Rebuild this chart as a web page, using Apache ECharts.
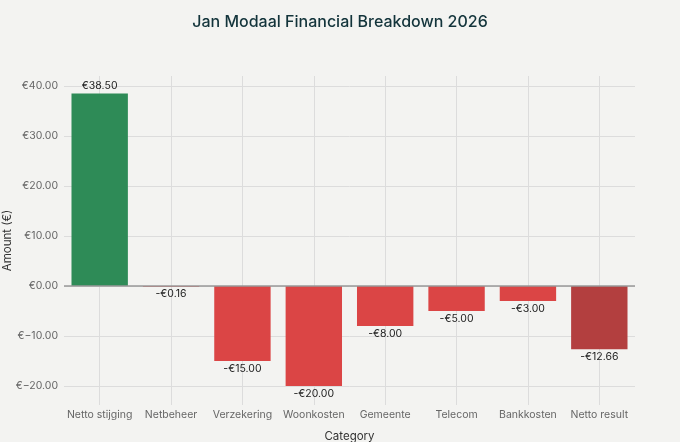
<!DOCTYPE html>
<html>
<head>
<meta charset="utf-8">
<script src="https://cdn.jsdelivr.net/npm/echarts@6/dist/echarts.min.js"></script>
<style>
  html, body { margin: 0; padding: 0; background: #f3f3f1; }
  #chart { width: 680px; height: 442px; }
</style>
</head>
<body>
<div id="chart"></div>
<script>
var categories = ['Netto stijging', 'Netbeheer', 'Verzekering', 'Woonkosten', 'Gemeente', 'Telecom', 'Bankkosten', 'Netto result'];
var amounts = [38.50, -0.16, -15.00, -20.00, -8.00, -5.00, -3.00, -12.66];
var barColors = ['#2e8b57', '#db4545', '#db4545', '#db4545', '#db4545', '#db4545', '#db4545', '#b33f3f'];
var yTicks = [-20, -10, 0, 10, 20, 30, 40];

var font = 'Inter, "Noto Sans", sans-serif';

function euro(v) {
  return (v < 0 ? '-€' : '€') + Math.abs(v).toFixed(2);
}
function tickEuro(v) {
  return v < 0 ? '€\u2212' + Math.abs(v).toFixed(2) : '€' + v.toFixed(2);
}

var barData = amounts.map(function (v, i) {
  return {
    value: v,
    itemStyle: { color: barColors[i] },
    label: { position: v < 0 ? 'bottom' : 'top' }
  };
});

var option = {
  backgroundColor: '#f3f3f1',
  textStyle: { fontFamily: font },
  title: {
    text: 'Jan Modaal Financial Breakdown 2026',
    left: 'center',
    top: 9,
    textStyle: { color: '#13343b', fontSize: 16, fontWeight: 500, fontFamily: font }
  },
  grid: { left: 64, right: 45, top: 76, bottom: 37, containLabel: false, outerBoundsMode: 'none' },
  xAxis: {
    type: 'category',
    data: categories,
    name: 'Category',
    nameLocation: 'middle',
    nameGap: 26,
    nameTextStyle: { color: '#333', fontSize: 11.5 },
    axisLine: { show: false, onZero: false },
    axisTick: { show: false, interval: 0 },
    axisLabel: { color: '#666', fontSize: 10.5, margin: 4, interval: 0 },
    splitLine: { show: true, interval: 0, alignWithLabel: true, lineStyle: { color: '#dcdcdc', width: 1 } }
  },
  yAxis: {
    type: 'value',
    min: -23.8,
    max: 42,
    name: 'Amount (€)',
    nameLocation: 'middle',
    nameGap: 50,
    nameMoveOverlap: false,
    nameTextStyle: { color: '#333', fontSize: 11.5 },
    axisLine: { show: false },
    axisTick: { show: false, customValues: yTicks },
    axisLabel: { color: '#666', fontSize: 10.5, margin: 6, customValues: yTicks, formatter: tickEuro },
    splitLine: { show: true, lineStyle: { color: '#dcdcdc', width: 1 } }
  },
  series: [{
    type: 'bar',
    data: barData,
    barWidth: '79%',
    label: {
      show: true,
      color: '#222',
      fontSize: 10.5,
      distance: 2,
      formatter: function (p) { return euro(p.value); }
    },
    markLine: {
      silent: true,
      symbol: 'none',
      label: { show: false },
      lineStyle: { color: '#999', width: 1.5, type: 'solid' },
      data: [{ yAxis: 0 }]
    }
  }]
};

var chart = echarts.init(document.getElementById('chart'));
chart.setOption(option);
</script>
</body>
</html>
